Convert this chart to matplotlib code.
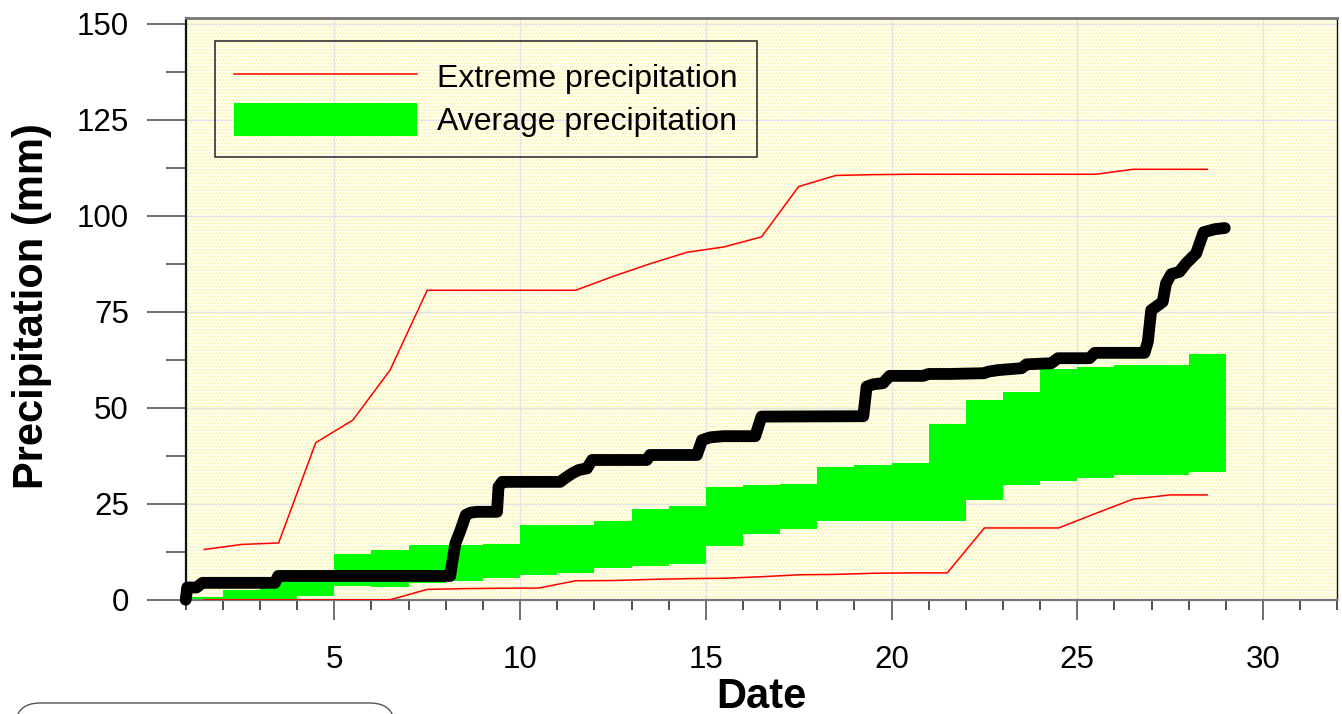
import matplotlib
matplotlib.use("Agg")
import matplotlib.pyplot as plt
from matplotlib.lines import Line2D
from matplotlib.patches import Patch, Rectangle, FancyBboxPatch
import numpy as np

plt.rcParams["font.family"] = ["Liberation Sans", "DejaVu Sans"]

# daily "average precipitation" band (day i spans [i, i+1])
DAYS = list(range(1, 29))
AVG_LOW = [0.0, 0.0, 0.0, 1.0, 3.6, 3.4, 4.4, 5.0, 5.7, 6.4,
           6.9, 8.2, 8.8, 9.3, 14.0, 17.1, 18.4, 20.5, 20.5, 20.5,
           20.5, 26.0, 29.9, 30.9, 31.7, 32.5, 32.5, 33.3]
AVG_HIGH = [0.6, 2.5, 5.5, 6.8, 11.9, 12.9, 14.2, 14.2, 14.6, 19.5,
            19.5, 20.5, 23.6, 24.5, 29.4, 29.9, 30.1, 34.6, 35.1, 35.6,
            45.7, 52.0, 54.0, 60.1, 60.7, 61.1, 61.1, 64.0]

# extreme precipitation envelopes, plotted at mid-day
EXT_X = [d + 0.5 for d in DAYS]
EXT_HIGH = [13.1, 14.4, 14.8, 40.9, 46.8, 59.8, 80.6, 80.6, 80.6, 80.6,
            80.6, 84.2, 87.5, 90.5, 91.9, 94.5, 107.6, 110.5, 110.7, 110.8,
            110.8, 110.8, 110.8, 110.8, 110.8, 112.1, 112.1, 112.1]
EXT_LOW = [0.0, 0.0, 0.0, 0.0, 0.0, 0.0, 2.7, 2.9, 3.0, 3.05,
           4.95, 5.0, 5.3, 5.5, 5.6, 6.0, 6.5, 6.6, 6.9, 7.0,
           7.0, 18.7, 18.7, 18.7, 22.5, 26.2, 27.3, 27.3]

# observed cumulative precipitation
OBS_X = [1.00, 1.04, 1.29, 1.45, 3.40, 3.49, 8.12, 8.17, 8.26, 8.40,
         8.54, 8.67, 8.85, 9.38, 9.42, 9.52, 11.08, 11.20, 11.40, 11.58,
         11.80, 11.94, 13.41, 13.50, 14.76, 14.90, 15.12, 15.47, 16.33, 16.50,
         19.24, 19.33, 19.50, 19.77, 19.95, 20.85, 21.00, 21.57, 22.50, 22.60,
         22.87, 23.50, 23.63, 24.30, 24.48, 25.33, 25.47, 26.81, 26.90, 26.99,
         27.12, 27.30, 27.39, 27.53, 27.75, 27.93, 28.20, 28.40, 28.70, 28.97]
OBS_Y = [0.0, 3.2, 3.2, 4.4, 4.4, 6.2, 6.2, 9.5, 14.7, 18.2,
         22.1, 22.7, 22.9, 22.9, 29.4, 30.7, 30.7, 31.6, 32.9, 33.8,
         34.2, 36.4, 36.4, 37.7, 37.7, 41.6, 42.3, 42.6, 42.6, 47.7,
         47.8, 55.5, 56.1, 56.4, 58.3, 58.3, 58.8, 58.8, 59.0, 59.4,
         59.8, 60.3, 61.3, 61.6, 62.9, 62.9, 64.3, 64.3, 67.2, 75.4,
         76.3, 77.6, 82.4, 84.8, 85.4, 87.6, 90.2, 95.7, 96.5, 96.8]

X_MAJOR = [5, 10, 15, 20, 25, 30]
Y_MAJOR = [0, 25, 50, 75, 100, 125, 150]

GREEN = "#00ff00"
RED = "#ff0000"
TICK_COLOR = "#555555"
GRID_COLOR = "#e4e4e4"


fig = plt.figure(figsize=(13.42, 7.14), dpi=100)
fig.patch.set_facecolor("white")
ax = fig.add_axes([0.1384, 0.160, 0.8581, 0.8148])

# stippled yellow background
ax.set_facecolor("#fffff6")
bg = Rectangle((0, 0), 1, 1, transform=ax.transAxes, facecolor="#fffff6",
               edgecolor="#faf59c", hatch=".....", linewidth=0, zorder=0)
ax.add_patch(bg)

ax.set_xlim(1, 32)
ax.set_ylim(0, 151.5)

ax.set_xticks(X_MAJOR)
ax.set_xticks(np.arange(1, 33), minor=True)
ax.set_yticks(Y_MAJOR)
ax.set_yticks(np.arange(0, 151, 12.5), minor=True)
ax.grid(which="major", color=GRID_COLOR, linewidth=1.0, zorder=0.5)
ax.set_axisbelow(True)

ax.tick_params(axis="x", which="major", direction="out", length=14.4, width=1.2,
               color=TICK_COLOR, labelsize=22.5, pad=18)
ax.tick_params(axis="x", which="minor", direction="out", length=7.2, width=1.2,
               color="#333333")
ax.tick_params(axis="y", which="major", direction="out", length=28, width=1.2,
               color=TICK_COLOR, labelsize=22.5, pad=13)
ax.tick_params(axis="y", which="minor", direction="out", length=14.4, width=1.2,
               color=TICK_COLOR)

for side, color, lw in [("top", "#777777", 2.0), ("bottom", "#777777", 1.6),
                        ("left", "#111111", 1.6), ("right", "#111111", 1.0)]:
    ax.spines[side].set_color(color)
    ax.spines[side].set_linewidth(lw)

heights = [h - l for h, l in zip(AVG_HIGH, AVG_LOW)]
ax.bar(DAYS, heights, bottom=AVG_LOW, width=1.0, align="edge", color=GREEN,
       linewidth=0, zorder=2)

ax.plot(EXT_X, EXT_HIGH, color=RED, linewidth=1.1, zorder=3)
ax.plot(EXT_X, EXT_LOW, color=RED, linewidth=1.1, zorder=3)

ax.plot(OBS_X, OBS_Y, color="black", linewidth=8.5, solid_capstyle="round",
        solid_joinstyle="round", zorder=4, clip_on=False)

ax.set_xlabel("Date", fontsize=30, fontweight="bold")
ax.set_ylabel("Precipitation (mm)", fontsize=30, fontweight="bold")
ax.xaxis.set_label_coords(0.5, -0.132)
ax.yaxis.set_label_coords(-0.116, 0.505)

handles = [Line2D([], [], color=RED, linewidth=1.1),
           Patch(facecolor=GREEN, edgecolor="none")]
leg = ax.legend(handles, ["Extreme precipitation", "Average precipitation"],
                loc="upper left", bbox_to_anchor=(0.0254, 0.9605),
                borderaxespad=0, fontsize=23, handlelength=5.72,
                handleheight=1.2, handletextpad=0.63, labelspacing=0.28,
                borderpad=0.6, fancybox=False)
frame = leg.get_frame()
frame.set_facecolor("none")
frame.set_edgecolor("#333333")
frame.set_linewidth(1.2)
frame.set_alpha(None)

# partially visible rounded box at the bottom-left corner
box = FancyBboxPatch((0.15, -0.5), 3.80, 0.61, boxstyle="round,pad=0,rounding_size=0.25",
                     transform=fig.dpi_scale_trans, facecolor="white",
                     edgecolor="#555555", linewidth=1.0)
fig.patches.append(box)

fig.savefig("out.png", dpi=100)
